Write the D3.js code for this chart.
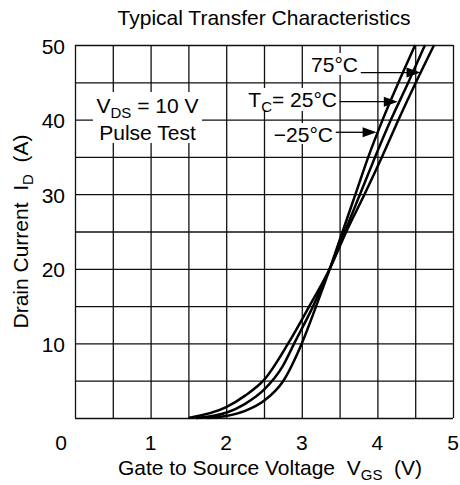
<!DOCTYPE html>
<html>
<head>
<meta charset="utf-8">
<script src="https://cdn.jsdelivr.net/npm/d3@7"></script>
<style>
  body { margin: 0; background: #fff; }
  svg { font-family: "Liberation Sans", Arial, sans-serif; }
  text { white-space: pre; }
</style>
</head>
<body>
<svg id="svg" width="460" height="485"></svg>
<script>
// [VGS (V), ID (A)]
var curveMinus25 = [[1.75, 0], [2.0, 0.27], [2.25, 0.95], [2.5, 2.3], [2.75, 4.9], [3.0, 10], [3.19, 15], [3.37, 20], [3.54, 25], [3.71, 30], [3.88, 35], [4.07, 40], [4.28, 45], [4.5, 50]];
var curve25 = [[1.6, 0], [2.0, 0.7], [2.25, 1.9], [2.5, 3.8], [2.75, 7.0], [2.9, 10], [3.15, 15], [3.37, 20], [3.57, 25], [3.77, 30], [3.97, 35], [4.18, 40], [4.41, 45], [4.63, 50]];
var curve75 = [[1.5, 0], [2.0, 1.45], [2.25, 3.0], [2.5, 5.1], [2.82, 10], [3.1, 15], [3.37, 20], [3.59, 25], [3.83, 30], [4.06, 35], [4.28, 40], [4.51, 45], [4.75, 50]];
var xTicks = [0, 1, 2, 3, 4, 5];
var yTicks = [10, 20, 30, 40, 50];

var svg = d3.select("#svg");
var padding = { top: 45, right: 7, bottom: 67, left: 75 };
var chartArea = {
  width: 460 - padding.left - padding.right,
  height: 485 - padding.top - padding.bottom,
};
var xScale = d3.scaleLinear().domain([0, 5]).range([0, chartArea.width]);
var yScale = d3.scaleLinear().domain([0, 50]).range([chartArea.height, 0]);

var g = svg.append("g")
  .attr("transform", "translate(" + padding.left + "," + padding.top + ")");

//grid
var xGrid = g.append("g")
  .attr("transform", "translate(0," + chartArea.height + ")")
  .call(d3.axisBottom(xScale).tickValues(d3.range(0, 5.01, 0.5)).tickSize(-chartArea.height).tickFormat(""));
var yGrid = g.append("g")
  .call(d3.axisLeft(yScale).tickValues(d3.range(0, 50.1, 5)).tickSize(-chartArea.width).tickFormat(""));
g.selectAll(".domain").remove();
g.selectAll(".tick line").attr("stroke", "#111").attr("stroke-width", 1.3);

//white boxes under the notes
var boxes = [
  [93 - padding.left, 92 - padding.top, 109, 51],
  [309 - padding.left, 53 - padding.top, 52, 22],
  [245 - padding.left, 88 - padding.top, 94, 23],
  [272 - padding.left, 123 - padding.top, 63, 21],
];
g.selectAll("rect.box").data(boxes).enter().append("rect")
  .attr("x", function (d) { return d[0]; })
  .attr("y", function (d) { return d[1]; })
  .attr("width", function (d) { return d[2]; })
  .attr("height", function (d) { return d[3]; })
  .attr("fill", "#fff");

//curves
var line = d3.line()
  .x(function (d) { return xScale(d[0]); })
  .y(function (d) { return yScale(d[1]); })
  .curve(d3.curveMonotoneX);
g.selectAll("path.curve").data([curveMinus25, curve25, curve75]).enter().append("path")
  .attr("d", line)
  .attr("fill", "none")
  .attr("stroke", "#000")
  .attr("stroke-width", 2.5);

//arrows: label end, tip on the curve
var arrows = [
  { x0: 3.78, v: 4.57, i: 46.3 },
  { x0: 3.5, v: 4.27, i: 42.4 },
  { x0: 3.45, v: 3.99, i: 38.3 },
];
arrows.forEach(function (a) {
  var x1 = xScale(a.x0), x2 = xScale(a.v), y = yScale(a.i);
  g.append("line").attr("x1", x1).attr("x2", x2 - 10).attr("y1", y).attr("y2", y)
    .attr("stroke", "#000").attr("stroke-width", 1.3);
  g.append("path")
    .attr("d", "M" + x2 + "," + y + "L" + (x2 - 14) + "," + (y - 5) + "L" + (x2 - 14) + "," + (y + 5) + "Z")
    .attr("fill", "#000");
});

//note texts
var fs = 21;
g.append("text").attr("x", 358 - padding.left).attr("y", 71.5 - padding.top)
  .attr("text-anchor", "end").attr("font-size", fs).text("75°C");
var t25 = g.append("text").attr("x", 337 - padding.left).attr("y", 106.5 - padding.top)
  .attr("text-anchor", "end").attr("font-size", fs);
t25.append("tspan").text("T");
t25.append("tspan").attr("font-size", 15).attr("dy", 5).text("C");
t25.append("tspan").attr("dy", -5).text("= 25°C");
g.append("text").attr("x", 333 - padding.left).attr("y", 141.5 - padding.top)
  .attr("text-anchor", "end").attr("font-size", fs).text("\u221225°C");

var tv = g.append("text").attr("x", 147.5 - padding.left).attr("y", 113 - padding.top)
  .attr("text-anchor", "middle").attr("font-size", fs);
tv.append("tspan").text("V");
tv.append("tspan").attr("font-size", 15).attr("dy", 5).text("DS");
tv.append("tspan").attr("dy", -5).text(" = 10 V");
g.append("text").attr("x", 147.5 - padding.left).attr("y", 140 - padding.top)
  .attr("text-anchor", "middle").attr("font-size", fs).text("Pulse Test");

//tick labels
g.selectAll("text.xt").data(xTicks).enter().append("text")
  .attr("x", function (d) { return d === 0 ? xScale(d) - 14 : xScale(d); })
  .attr("y", chartArea.height + 32)
  .attr("text-anchor", "middle").attr("font-size", fs)
  .text(function (d) { return d; });
g.selectAll("text.yt").data(yTicks).enter().append("text")
  .attr("x", -10)
  .attr("y", function (d) { return yScale(d) + 8.5; })
  .attr("text-anchor", "end").attr("font-size", fs)
  .text(function (d) { return d; });

//titles
svg.append("text").attr("x", padding.left + chartArea.width / 2).attr("y", 25)
  .attr("text-anchor", "middle").attr("font-size", fs).text("Typical Transfer Characteristics");

var xt = svg.append("text").attr("x", 270).attr("y", 475)
  .attr("text-anchor", "middle").attr("font-size", fs);
xt.append("tspan").text("Gate to Source Voltage  V");
xt.append("tspan").attr("font-size", 15).attr("dy", 5).text("GS");
xt.append("tspan").attr("dy", -5).text("  (V)");

var yt = svg.append("text")
  .attr("transform", "translate(28," + (padding.top + chartArea.height / 2) + ") rotate(-90)")
  .attr("text-anchor", "middle").attr("font-size", fs);
yt.append("tspan").text("Drain Current  I");
yt.append("tspan").attr("font-size", 15).attr("dy", 5).text("D");
yt.append("tspan").attr("dy", -5).text("  (A)");
</script>
</body>
</html>
